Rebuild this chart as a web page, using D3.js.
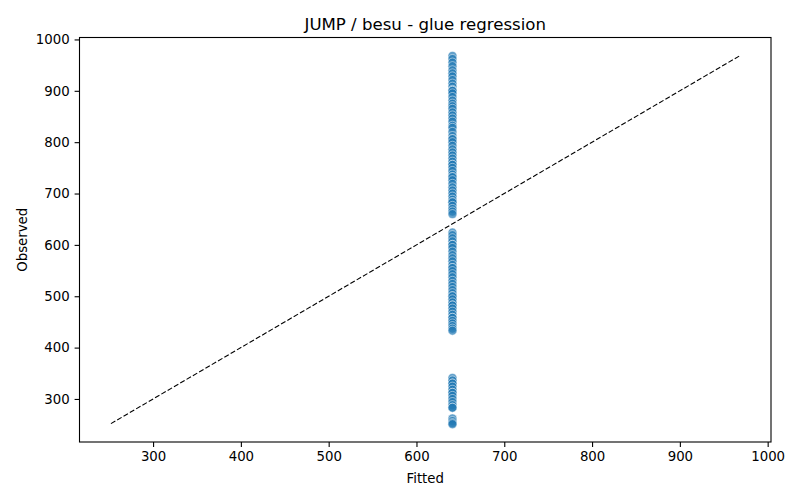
<!DOCTYPE html>
<html>
<head>
<meta charset="utf-8">
<script src="https://cdn.jsdelivr.net/npm/d3@7"></script>
<style>
  html, body { margin: 0; padding: 0; background: #fff; }
  text { font-family: "DejaVu Sans", sans-serif; fill: #000; }
</style>
</head>
<body>
<svg id="chart" width="800" height="500"></svg>
<script>
const title = "JUMP / besu - glue regression";
const xLabel = "Fitted";
const yLabel = "Observed";
const fittedValue = 641;
const observed = [
  968, 962, 955, 948, 940, 934, 928, 921, 914, 908, 902, 900, 900, 895, 888, 881, 875, 870, 865,
  858, 852, 846, 840, 832, 828, 820, 812, 806, 806, 800, 793, 786, 780, 774, 768, 762, 756, 756, 750,
  744, 737, 732, 732, 726, 719, 712, 706, 700, 694, 688, 683, 683, 676, 670, 665, 660,
  624, 619, 613, 607, 600, 600, 594, 587, 580, 574, 568, 561, 555, 555, 549, 543, 537, 530, 524,
  518, 512, 506, 500, 500, 494, 488, 482, 482, 476, 470, 464, 458, 458, 452, 447, 442, 437, 433,
  341, 336, 330, 330, 324, 318, 312, 312, 306, 300, 294, 288, 283, 283, 262, 257, 253, 251
];
const idealLine = [252, 968];
const xTicks = [300, 400, 500, 600, 700, 800, 900, 1000];
const yTicks = [300, 400, 500, 600, 700, 800, 900, 1000];

const svg = d3.select("#chart");
const pLeft = 79.5, pRight = 771, pTop = 37.5, pBottom = 442;

const x = d3.scaleLinear().domain([216.2, 1003.8]).range([pLeft, pRight]);
const y = d3.scaleLinear().domain([216.2, 1003.8]).range([pBottom, pTop]);

const xAxis = d3.axisBottom(x).tickValues(xTicks).tickSize(4.9).tickPadding(4.9).tickFormat(d3.format("d"));
const yAxis = d3.axisLeft(y).tickValues(yTicks).tickSize(4.9).tickPadding(4.9).tickFormat(d3.format("d"));

const gx = svg.append("g").attr("transform", `translate(0,${pBottom})`).call(xAxis);
const gy = svg.append("g").attr("transform", `translate(${pLeft},0)`).call(yAxis);
[gx, gy].forEach(g => {
  g.select(".domain").remove();
  g.selectAll(".tick line").attr("stroke", "#000").attr("stroke-width", 1.1);
  g.selectAll(".tick text").attr("font-size", "13.3px").attr("font-family", "DejaVu Sans, sans-serif").attr("fill", "#000");
});

svg.append("g").selectAll("circle")
  .data(observed)
  .enter().append("circle")
  .attr("cx", x(fittedValue))
  .attr("cy", d => y(d))
  .attr("r", 4.5)
  .attr("fill", "#1f77b4")
  .attr("fill-opacity", 0.7)
  .attr("stroke", "#ffffff")
  .attr("stroke-width", 0.7)
  .attr("stroke-opacity", 0.7);

svg.append("line")
  .attr("x1", x(idealLine[0])).attr("y1", y(idealLine[0]))
  .attr("x2", x(idealLine[1])).attr("y2", y(idealLine[1]))
  .attr("stroke", "#000").attr("stroke-width", 1.1)
  .attr("stroke-dasharray", "5.1,2.2");

svg.append("rect")
  .attr("x", pLeft).attr("y", pTop)
  .attr("width", pRight - pLeft).attr("height", pBottom - pTop)
  .attr("fill", "none").attr("stroke", "#000").attr("stroke-width", 1.1);

svg.append("text").attr("x", (pLeft + pRight) / 2).attr("y", 29.5)
  .attr("text-anchor", "middle").attr("font-size", "16.6px").text(title);
svg.append("text").attr("x", (pLeft + pRight) / 2).attr("y", 483)
  .attr("text-anchor", "middle").attr("font-size", "13.3px").text(xLabel);
svg.append("text").attr("transform", `translate(27,${(pTop + pBottom) / 2}) rotate(-90)`)
  .attr("text-anchor", "middle").attr("font-size", "13.3px").text(yLabel);
</script>
</body>
</html>
